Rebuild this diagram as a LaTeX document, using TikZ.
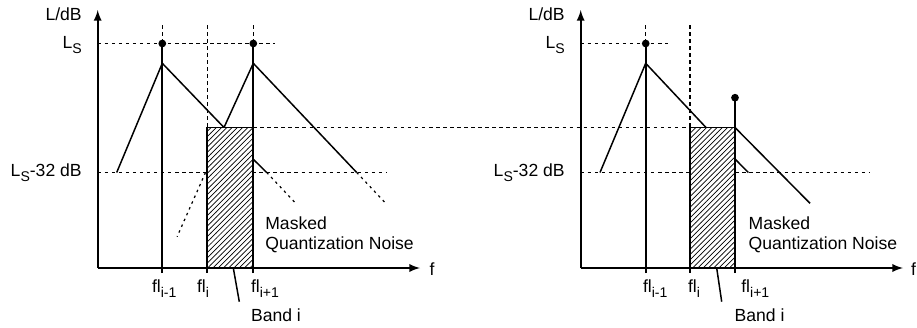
\documentclass[tikz,border=0pt]{standalone}
\usepackage{fontspec}
\setmainfont{Liberation Sans}
\usetikzlibrary{arrows, patterns, positioning}

% lowered index, as printed in the figure
\newcommand{\lowidx}[1]{\raisebox{-3pt}{\fontsize{8}{9}\selectfont #1}}

\begin{document}
\begin{tikzpicture}[
    x=0.02cm, y=-0.02cm,
    every node/.style={font=\fontsize{10}{11.6}\selectfont, inner sep=0pt},
    axis/.style={->, >=latex, line width=1.1pt},
    curve/.style={line width=0.85pt},
    tick/.style={line width=1.1pt},
    level/.style={line width=0.6pt, dash pattern=on 2pt off 2pt},
    hidden/.style={line width=0.7pt, dash pattern=on 1.4pt off 2.2pt},
    band/.style={draw, line width=1.1pt, preaction={fill=white}, pattern=north east lines},
    tone/.style={circle, fill, minimum size=4.4pt},
    ylab/.style={anchor=base east},
    flab/.style={anchor=base west},
    note/.style={anchor=north west, align=left}
]
\useasboundingbox (0,0) rectangle (917,328);

% ---- Left diagram: two tonal components ----
\coordinate (lo) at (97.7,268);
\coordinate (lytip) at (97.7,10);
\coordinate (lxtip) at (420,268);
\coordinate (lpk1) at (162.3,63.3);
\coordinate (lpk2) at (253.3,63.3);
\coordinate (lmeet) at (224,127.5);
\coordinate (ltone1) at (162.3,43.5);
\coordinate (ltone2) at (253.3,43.5);

% levels
\draw[level] (97.7,43.5) -- (275,43.5);
\draw[level] (97.7,172.5) -- (387,172.5);
\draw[level] (253.3,127.5) -- (690,127.5);
\draw[level] (162.3,25) -- (ltone1);
\draw[level] (253.3,25) -- (ltone2);
\draw[level] (207.3,25) -- (207.3,127.5);

% masking curves
\draw[curve] (116.7,172.5) -- (lpk1) -- (lmeet) -- (lpk2) -- (356.7,172.5);
\draw[curve] (253.3,159.3) -- (266.7,172.5);
\draw[hidden] (266.7,172.5) -- (296.7,204.3);
\draw[hidden] (356.7,172.5) -- (386.7,204.3);
\draw[hidden] (205.5,172.5) -- (177.1,236.7);

% band i
\draw[band] (207.3,127.5) rectangle (253.3,268);
\draw[tick] (162.3,273) -- (ltone1);
\draw[tick] (253.3,273) -- (ltone2);
\draw[tick] (207.3,268) -- (207.3,273);
\draw[curve] (233.3,268) -- (239.3,301.7);
\node[tone] (ldot1) at (ltone1) {};
\node[tone] (ldot2) at (ltone2) {};

% axes and labels
\draw[axis] (lo) -- (lytip);
\draw[axis] (lo) -- (lxtip);
\node[ylab] (ldb) at (82,20) {L/dB};
\node[ylab] (lls) at (82,48.3) {L\lowidx{S}};
\node[ylab] (llow) at (82,176.7) {L\lowidx{S}-32 dB};
\node[anchor=base] (lf) at (432,275) {f};
\node[flab] (lfl1) at (151.7,292) {fl\lowidx{i-1}};
\node[flab] (lfl2) at (196.7,292) {fl\lowidx{i}};
\node[flab] (lfl3) at (250.7,292) {fl\lowidx{i+1}};
\node[flab] (lband) at (250.7,321.7) {Band i};
\node[note] (lnote) at (265,216) {Masked\\Quantization Noise};

% ---- Right diagram: tone inside band i ----
\coordinate (ro) at (580.7,268);
\coordinate (rytip) at (580.7,10);
\coordinate (rxtip) at (903,268);
\coordinate (rpk) at (645.7,63.3);
\coordinate (rtone1) at (645.7,43.5);
\coordinate (rtone2) at (735,97.7);
\coordinate (rcorner) at (735,127.5);

% levels
\draw[level] (580.7,43.5) -- (668,43.5);
\draw[level] (580.7,172.5) -- (870,172.5);
\draw[level] (645.7,25) -- (rtone1);
\draw[level] (690,25) -- (690,127.5);

% masking curves
\draw[curve] (600,172.5) -- (rpk) -- (706,127.5);
\draw[curve] (735,159) -- (748.3,172.5);

% band i
\draw[band] (690,127.5) rectangle (735,268);
\draw[curve] (rcorner) -- (810,203.3);
\draw[tick] (645.7,273) -- (rtone1);
\draw[tick] (735,273) -- (rtone2);
\draw[tick] (690,268) -- (690,273);
\draw[curve] (716.7,268) -- (721.7,301.7);
\node[tone] (rdot1) at (rtone1) {};
\node[tone] (rdot2) at (rtone2) {};

% axes and labels
\draw[axis] (ro) -- (rytip);
\draw[axis] (ro) -- (rxtip);
\node[ylab] (rdb) at (565,20) {L/dB};
\node[ylab] (rls) at (565,48.3) {L\lowidx{S}};
\node[ylab] (rlow) at (565,176.7) {L\lowidx{S}-32 dB};
\node[anchor=base] (rf) at (913.5,275) {f};
\node[flab] (rfl1) at (642.7,292) {fl\lowidx{i-1}};
\node[flab] (rfl2) at (687.7,292) {fl\lowidx{i}};
\node[flab] (rfl3) at (741,292) {fl\lowidx{i+1}};
\node[flab] (rband) at (734.3,321.7) {Band i};
\node[note] (rnote) at (748.3,216) {Masked\\Quantization Noise};

\end{tikzpicture}
\end{document}
